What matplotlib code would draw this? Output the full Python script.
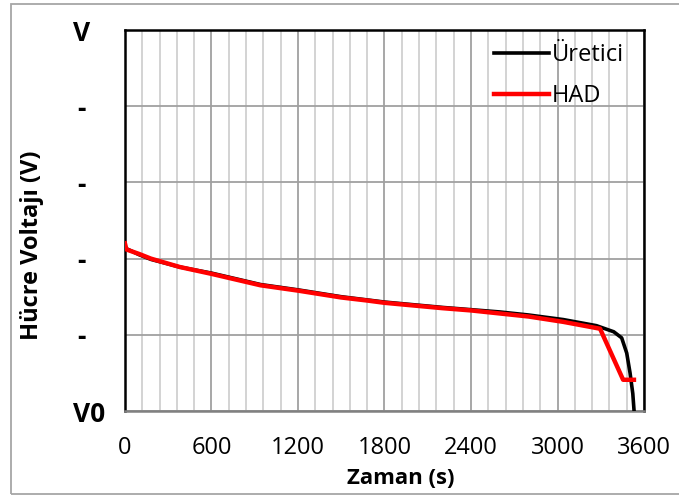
import matplotlib
matplotlib.use('Agg')
import matplotlib.pyplot as plt
from matplotlib.patches import Rectangle
from matplotlib.ticker import MultipleLocator

plt.rcParams['font.family'] = ['Open Sans', 'DejaVu Sans']

# Üretici (manufacturer) curve
t_uretici = [0, 100, 180, 380, 600, 940, 1200, 1500, 1800, 2200, 2400, 2600, 2800,
             3040, 3270, 3390, 3445, 3480, 3503, 3522, 3531]
v_uretici = [2.14, 2.05, 1.99, 1.89, 1.81, 1.66, 1.59, 1.50, 1.43, 1.36, 1.33, 1.30, 1.26,
             1.20, 1.12, 1.04, 0.96, 0.76, 0.50, 0.23, 0.0]

# HAD (CFD) curve
t_had = [0, 10, 100, 180, 380, 600, 940, 1200, 1500, 1680, 1800, 2200, 2400, 2600, 2800,
         3040, 3295, 3455, 3530]
v_had = [2.20, 2.12, 2.06, 2.00, 1.89, 1.80, 1.65, 1.58, 1.49, 1.45, 1.42, 1.35, 1.32, 1.28,
         1.24, 1.17, 1.08, 0.41, 0.41]

x_ticks = [0, 600, 1200, 1800, 2400, 3000, 3600]
y_ticks = [0, 1, 2, 3, 4, 5]
y_labels = ['V0', '-', '-', '-', '-', 'V']

fig = plt.figure(figsize=(6.79, 4.97), dpi=100)
ax = fig.add_axes([0.184, 0.173, 0.7645, 0.7666])

# outer gray frame (right edge runs off the image)
fig.patches.append(Rectangle((11 / 679, 3 / 497), 700 / 679, 490 / 497, transform=fig.transFigure,
                             fill=False, edgecolor='#a6a6a6', linewidth=1.3))

ax.plot(t_uretici, v_uretici, color='black', linewidth=2.6, label='Üretici', zorder=3)
ax.plot(t_had, v_had, color='#ff0000', linewidth=3.2, label='HAD', zorder=4)

ax.set_xlim(0, 3600)
ax.set_ylim(0, 5)
ax.set_xticks(x_ticks)
ax.xaxis.set_minor_locator(MultipleLocator(120))
ax.set_yticks(y_ticks)
# the short labels sit a bit left of "V0" in the original
ax.set_yticklabels([s if s == 'V0' else s + '  ' for s in y_labels], fontweight='bold', fontsize=19)
ax.tick_params(axis='both', which='both', length=0)
ax.tick_params(axis='x', pad=18, labelsize=17)
ax.tick_params(axis='y', pad=26)
for lbl in ax.get_yticklabels():
    lbl.set_horizontalalignment('center')

ax.grid(True, which='major', color='#a0a0a0', linewidth=1.3)
ax.grid(True, which='minor', axis='x', color='#d0d0d0', linewidth=1.3)
ax.set_axisbelow(True)

for s in ['left', 'top', 'right']:
    ax.spines[s].set_color('black')
    ax.spines[s].set_linewidth(1.8)
ax.spines['bottom'].set_color('#808080')
ax.spines['bottom'].set_linewidth(1.8)

ax.set_xlabel('Zaman (s)', fontsize=16, fontweight='bold')
ax.set_ylabel('Hücre Voltajı (V)', fontsize=17, fontweight='bold')
ax.xaxis.set_label_coords(0.532, -0.15)
ax.yaxis.set_label_coords(-0.155, 0.436)

ax.legend(loc='upper right', bbox_to_anchor=(0.962, 0.965), frameon=False, fontsize=17,
          handlelength=2.3, handletextpad=0.15, labelspacing=0.7, borderaxespad=0, borderpad=0)

fig.savefig('out.png', dpi=100)
